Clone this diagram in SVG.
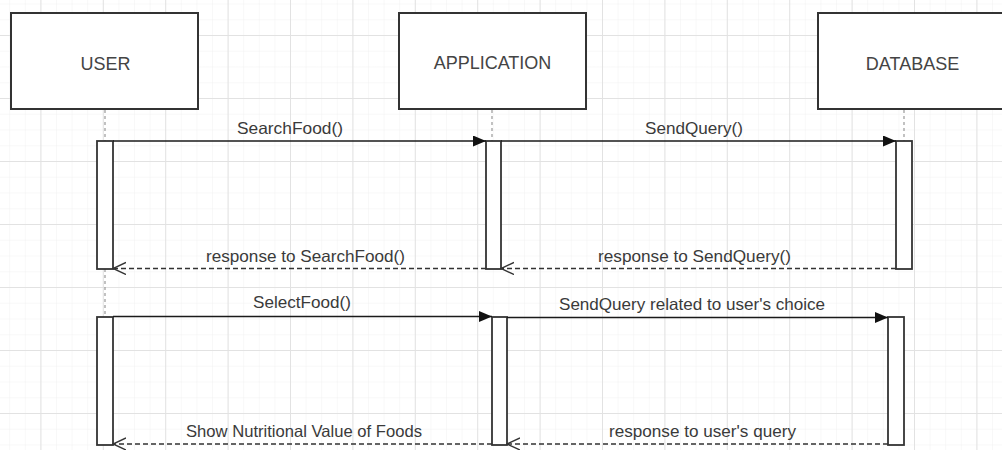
<svg xmlns="http://www.w3.org/2000/svg" width="1002" height="450" viewBox="0 0 1002 450">
  <style>
    .box { fill: #ffffff; stroke: #333333; stroke-width: 2; }
    .act { fill: #ffffff; stroke: #333333; stroke-width: 1.8; }
    .life { stroke: #999999; stroke-width: 1.2; stroke-dasharray: 3 3; fill: none; }
    .msg { stroke: #1a1a1a; stroke-width: 1.6; fill: none; }
    .ret { stroke: #333333; stroke-width: 1.4; fill: none; stroke-dasharray: 5 3; }
    .hdr { font-family: "Liberation Sans", Arial, sans-serif; font-size: 18px; fill: #444444; text-anchor: middle; }
    .lbl { font-family: "Liberation Sans", Arial, sans-serif; font-size: 16.5px; fill: #3a3a3a; text-anchor: middle; }
  </style>
  <defs>
    <pattern id="minor" x="40.4" y="35" width="15.6" height="15.75" patternUnits="userSpaceOnUse">
      <path d="M0,0 H15.6 M0,0 V15.75" stroke="#f1f1f1" stroke-width="1" fill="none"/>
    </pattern>
    <pattern id="major" x="40.4" y="35" width="62.4" height="63" patternUnits="userSpaceOnUse">
      <path d="M0,0.5 H62.4 M0.5,0 V63" stroke="#e2e2e2" stroke-width="1" fill="none"/>
    </pattern>
    <marker id="filled" markerUnits="userSpaceOnUse" markerWidth="14" markerHeight="12" refX="13" refY="5.5" orient="auto">
      <path d="M0,0 L13,5.5 L0,11 Z" fill="#111111"/>
    </marker>
    <marker id="open" markerUnits="userSpaceOnUse" markerWidth="14" markerHeight="14" refX="13" refY="6.5" orient="auto">
      <path d="M0,0.5 L13,6.5 L0,12.5" fill="none" stroke="#333333" stroke-width="1.4"/>
    </marker>
  </defs>

  <rect x="0" y="0" width="1002" height="450" fill="#ffffff"/>
  <rect x="0" y="0" width="1002" height="450" fill="url(#minor)"/>
  <rect x="0" y="0" width="1002" height="450" fill="url(#major)"/>

  <g id="lifelines">
    <line class="life" x1="105" y1="110" x2="105" y2="141"/>
    <line class="life" x1="105" y1="269" x2="105" y2="317"/>
    <line class="life" x1="492" y1="110" x2="492" y2="141"/>
    <line class="life" x1="904" y1="110" x2="904" y2="141"/>
  </g>

  <g id="user">
    <rect class="box" x="11" y="13" width="187" height="96"/>
    <text class="hdr" x="105.5" y="70">USER</text>
  </g>
  <g id="application">
    <rect class="box" x="399" y="13" width="187" height="96"/>
    <text class="hdr" x="492.5" y="69">APPLICATION</text>
  </g>
  <g id="database">
    <rect class="box" x="818" y="13" width="187" height="96"/>
    <text class="hdr" x="912.5" y="70">DATABASE</text>
  </g>

  <g id="activations">
    <rect class="act" x="97" y="141" width="16" height="128"/>
    <rect class="act" x="97" y="317" width="16" height="128"/>
    <rect class="act" x="486" y="141" width="15" height="128"/>
    <rect class="act" x="492" y="317" width="15" height="128"/>
    <rect class="act" x="896" y="141" width="16" height="128"/>
    <rect class="act" x="888" y="317" width="16" height="128"/>
  </g>

  <g id="connectors">
    <line class="msg" x1="113" y1="141" x2="486" y2="141" marker-end="url(#filled)"/>
    <line class="msg" x1="501" y1="141" x2="896" y2="141" marker-end="url(#filled)"/>
    <line class="ret" x1="486" y1="268.5" x2="113" y2="268.5" marker-end="url(#open)"/>
    <line class="ret" x1="896" y1="268.5" x2="501" y2="268.5" marker-end="url(#open)"/>
    <line class="msg" x1="113" y1="316.5" x2="492" y2="316.5" marker-end="url(#filled)"/>
    <line class="msg" x1="507" y1="317.5" x2="888" y2="317.5" marker-end="url(#filled)"/>
    <line class="ret" x1="492" y1="444" x2="113" y2="444" marker-end="url(#open)"/>
    <line class="ret" x1="888" y1="444" x2="507" y2="444" marker-end="url(#open)"/>
  </g>

  <g id="labels">
    <text class="lbl" x="290" y="134" textLength="106" lengthAdjust="spacingAndGlyphs">SearchFood()</text>
    <text class="lbl" x="694" y="134" textLength="98" lengthAdjust="spacingAndGlyphs">SendQuery()</text>
    <text class="lbl" x="305.5" y="262" textLength="199" lengthAdjust="spacingAndGlyphs">response to SearchFood()</text>
    <text class="lbl" x="694.5" y="262" textLength="193" lengthAdjust="spacingAndGlyphs">response to SendQuery()</text>
    <text class="lbl" x="302" y="308" textLength="98" lengthAdjust="spacingAndGlyphs">SelectFood()</text>
    <text class="lbl" x="692" y="310" textLength="266" lengthAdjust="spacingAndGlyphs">SendQuery related to user's choice</text>
    <text class="lbl" x="304" y="437" textLength="236" lengthAdjust="spacingAndGlyphs">Show Nutritional Value of Foods</text>
    <text class="lbl" x="702.5" y="437" textLength="187" lengthAdjust="spacingAndGlyphs">response to user's query</text>
  </g>
</svg>
